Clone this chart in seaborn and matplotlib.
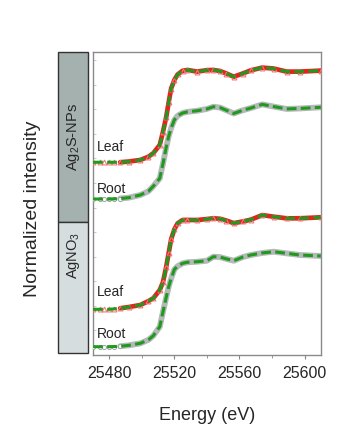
import numpy as np
import pandas as pd
import matplotlib
matplotlib.use('Agg')
import matplotlib.pyplot as plt
from matplotlib.patches import Rectangle
from matplotlib.ticker import MultipleLocator
import seaborn as sns

sns.set_style('ticks')
plt.rcParams['font.family'] = ['Liberation Sans', 'DejaVu Sans']
plt.rcParams['mathtext.fontset'] = 'custom'
plt.rcParams['mathtext.rm'] = 'Liberation Sans'
plt.rcParams['mathtext.it'] = 'Liberation Sans:italic'

# energy grid (eV)
energy = [25470, 25474, 25477, 25480, 25483, 25486.6, 25492, 25499, 25504, 25507, 25511,
          25513, 25515, 25516.5, 25518, 25520, 25522, 25525, 25528, 25534, 25540, 25544,
          25548, 25552, 25556.5, 25562, 25567, 25574, 25581, 25589, 25597, 25610]

# normalized spectra (edge step = 1)
ag2s_leaf = [0.0, 0.0, 0.0, 0.0, 0.0, 0.0, 0.008, 0.025, 0.06, 0.099, 0.19,
             0.336, 0.50, 0.66, 0.81, 0.905, 0.965, 1.005, 1.014, 0.996, 1.012, 1.014,
             1.003, 0.975, 0.94, 0.975, 1.01, 1.04, 1.03, 0.996, 0.996, 1.007]
ag2s_root = [0.0, 0.0, 0.0, 0.0, 0.002, 0.005, 0.015, 0.044, 0.085, 0.14, 0.227,
             0.39, 0.57, 0.69, 0.78, 0.87, 0.915, 0.945, 0.958, 0.97, 0.99, 1.014,
             1.005, 0.975, 0.94, 0.975, 1.0, 1.04, 1.016, 0.99, 0.995, 1.008]
agno3_leaf = [0.0, 0.0, 0.0, 0.0, 0.005, 0.011, 0.025, 0.047, 0.09, 0.121, 0.212,
              0.30, 0.47, 0.62, 0.77, 0.88, 0.945, 0.981, 0.982, 0.981, 0.992, 1.0,
              0.995, 0.975, 0.947, 0.965, 0.985, 1.035, 1.018, 1.0, 1.0, 1.011]
agno3_root = [0.0, 0.0, 0.0, 0.0, 0.002, 0.005, 0.015, 0.037, 0.075, 0.12, 0.22,
              0.385, 0.545, 0.66, 0.75, 0.85, 0.885, 0.916, 0.928, 0.934, 0.945, 0.989,
              0.985, 0.965, 0.945, 0.985, 1.008, 1.03, 1.044, 1.026, 1.008, 0.997]

# fits (green dashed) follow the measured spectra closely
ag2s_leaf_fit = ag2s_leaf
ag2s_root_fit = ag2s_root
agno3_leaf_fit = agno3_leaf
agno3_root_fit = agno3_root

offsets = {'ag2s_leaf': 2.118, 'ag2s_root': 1.714, 'agno3_leaf': 0.502, 'agno3_root': 0.091}

df = pd.DataFrame({'energy': energy,
                   'ag2s_leaf': np.array(ag2s_leaf) + offsets['ag2s_leaf'],
                   'ag2s_root': np.array(ag2s_root) + offsets['ag2s_root'],
                   'agno3_leaf': np.array(agno3_leaf) + offsets['agno3_leaf'],
                   'agno3_root': np.array(agno3_root) + offsets['agno3_root'],
                   'ag2s_leaf_fit': np.array(ag2s_leaf_fit) + offsets['ag2s_leaf'],
                   'ag2s_root_fit': np.array(ag2s_root_fit) + offsets['ag2s_root'],
                   'agno3_leaf_fit': np.array(agno3_leaf_fit) + offsets['agno3_leaf'],
                   'agno3_root_fit': np.array(agno3_root_fit) + offsets['agno3_root']})
edge = df[df['energy'] >= 25486]

fig = plt.figure(figsize=(3.58, 4.48), dpi=100)
ax = fig.add_axes([0.26, 0.2076, 0.636, 0.6764])

red = '#e8211e'
gray = '#b5b8b8'
green = '#1f9a1f'

for name in ['ag2s_leaf', 'agno3_leaf']:
    sns.lineplot(data=edge, x='energy', y=name, ax=ax, color=red, lw=3.4, zorder=2)
    sns.lineplot(data=df, x='energy', y=name, ax=ax, color=red, lw=0, marker='^',
                 markersize=3.5, markerfacecolor='none', markeredgecolor='#f07a7a',
                 markeredgewidth=0.8, zorder=3)
for name in ['ag2s_root', 'agno3_root']:
    sns.lineplot(data=edge, x='energy', y=name, ax=ax, color=gray, lw=4.2, zorder=2)
    sns.lineplot(data=df[df['energy'] < 25490], x='energy', y=name, ax=ax, color=gray, lw=0,
                 marker='o', markersize=3, markerfacecolor='white', markeredgecolor='#a0a4a4',
                 markeredgewidth=0.7, zorder=3)
for name in ['ag2s_leaf_fit', 'ag2s_root_fit', 'agno3_leaf_fit', 'agno3_root_fit']:
    sns.lineplot(data=df, x='energy', y=name, ax=ax, color=green, lw=2.2,
                 linestyle=(0, (3.2, 1.4)), zorder=4)

# curve labels
for txt, y in [('Leaf', 2.288), ('Root', 1.824), ('Leaf', 0.69), ('Root', 0.23)]:
    ax.text(25472.5, y, txt, fontsize=10, ha='left', va='center')

ax.set_xlim(25470, 25610)
ax.set_ylim(0, 3.33)
ax.set_xticks([25480, 25520, 25560, 25600])
ax.xaxis.set_minor_locator(MultipleLocator(20))
ax.yaxis.set_minor_locator(MultipleLocator(0.27))
ax.set_yticks([])
ax.tick_params(axis='x', which='major', length=3, labelsize=11.5, color='#888888', pad=5)
ax.tick_params(axis='x', which='minor', length=2, color='#888888')
ax.tick_params(axis='y', which='minor', direction='in', length=2, color='#c0c0c0')
for sp in ax.spines.values():
    sp.set_color('#8a8a8a')
    sp.set_linewidth(1.0)
ax.set_xlabel('Energy (eV)', fontsize=13, labelpad=19)
ax.set_ylabel('')

# side panels
fig.patches.append(Rectangle((0.162, 0.5045), 0.084, 0.3795, transform=fig.transFigure,
                             facecolor='#a4b1af', edgecolor='#333333', lw=1.0))
fig.patches.append(Rectangle((0.162, 0.212), 0.084, 0.2925, transform=fig.transFigure,
                             facecolor='#d6dddf', edgecolor='#333333', lw=1.0))
fig.text(0.204, 0.694, 'Ag$_2$S-NPs', rotation=90, ha='center', va='center', fontsize=10.5)
fig.text(0.204, 0.43, 'AgNO$_3$', rotation=90, ha='center', va='center', fontsize=10.5)
fig.text(0.09, 0.535, 'Normalized intensity', rotation=90, ha='center', va='center', fontsize=14)

plt.savefig('out.png', dpi=100)
